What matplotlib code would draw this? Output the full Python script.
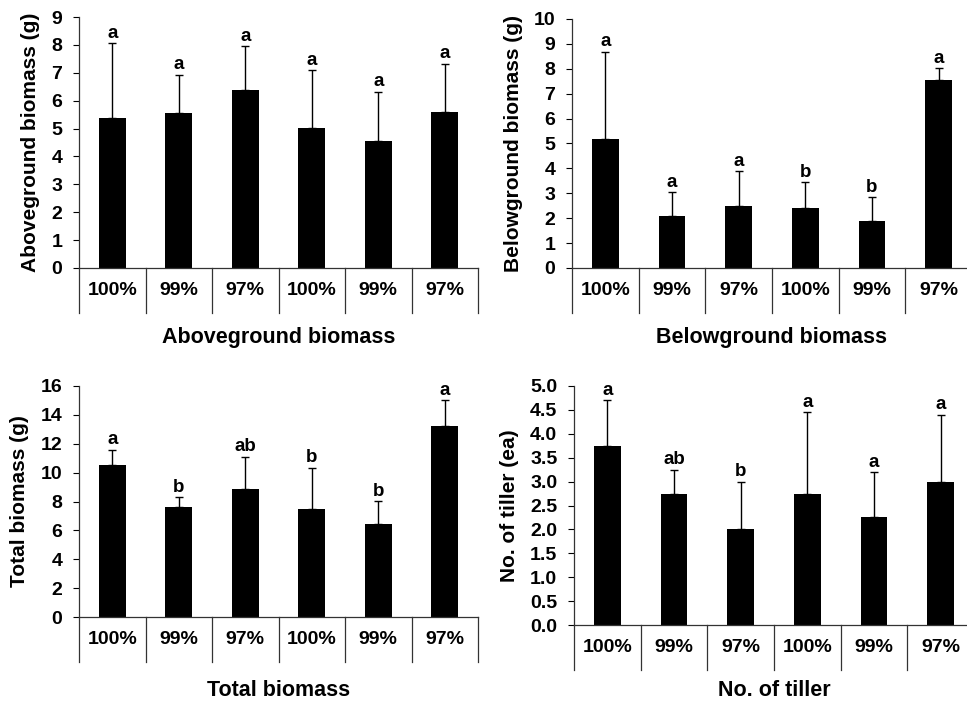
import numpy as np
import matplotlib
matplotlib.use("Agg")
import matplotlib.pyplot as plt
from matplotlib.transforms import blended_transform_factory

plt.rcParams["font.family"] = ["Liberation Sans", "DejaVu Sans"]
plt.rcParams["font.weight"] = "bold"

CATS = ["100%", "99%", "97%", "100%", "99%", "97%"]

above_mean = [5.37, 5.55, 6.38, 5.02, 4.57, 5.60]
above_sd = [2.70, 1.38, 1.57, 2.08, 1.75, 1.73]
above_let = ["a", "a", "a", "a", "a", "a"]

below_mean = [5.17, 2.08, 2.47, 2.42, 1.87, 7.57]
below_sd = [3.51, 0.97, 1.41, 1.03, 0.98, 0.45]
below_let = ["a", "a", "a", "b", "b", "a"]

total_mean = [10.55, 7.65, 8.85, 7.45, 6.45, 13.20]
total_sd = [1.05, 0.63, 2.25, 2.88, 1.58, 1.80]
total_let = ["a", "b", "ab", "b", "b", "a"]

tiller_mean = [3.75, 2.75, 2.00, 2.75, 2.25, 3.00]
tiller_sd = [0.95, 0.50, 1.00, 1.70, 0.95, 1.40]
tiller_let = ["a", "ab", "b", "a", "a", "a"]

PANELS = [
    # (rect px, mean, sd, letters, ylabel, xlabel, yticks, fmt, xlabel y px below axis)
    ([79, 17, 399, 251], above_mean, above_sd, above_let,
     "Aboveground biomass (g)", "Aboveground biomass", np.arange(0, 10, 1), "%d", 70),
    ([572, 19, 400, 249], below_mean, below_sd, below_let,
     "Belowground biomass (g)", "Belowground biomass", np.arange(0, 11, 1), "%d", 70),
    ([79, 386, 399, 231], total_mean, total_sd, total_let,
     "Total biomass (g)", "Total biomass", np.arange(0, 17, 2), "%d", 73),
    ([574, 386, 400, 239], tiller_mean, tiller_sd, tiller_let,
     "No. of tiller (ea)", "No. of tiller", np.arange(0, 5.01, 0.5), "%.1f", 66),
]

W, H = 967, 704
fig = plt.figure(figsize=(W / 100, H / 100), dpi=100)

for rect, mean, sd, lets, ylab, xlab, yt, fmt, xly in PANELS:
    x0, y0, w, h = rect
    ax = fig.add_axes([x0 / W, 1 - (y0 + h) / H, w / W, h / H])
    x = np.arange(len(CATS))
    ax.bar(x, mean, width=0.4, color="black", zorder=2)
    ax.errorbar(x, mean, yerr=[np.zeros(len(sd)), sd], fmt="none",
                ecolor="black", elinewidth=1.0, capsize=3, capthick=1.0, zorder=3)
    for xi, m, s, l in zip(x, mean, sd, lets):
        ax.annotate(l, (xi, m + s), xytext=(0, 1), textcoords="offset points",
                    ha="center", va="bottom", fontsize=13.5, fontweight="bold")
    ax.set_xlim(-0.5, 5.5)
    ax.set_ylim(yt[0], yt[-1])
    ax.set_yticks(yt)
    ax.set_yticklabels([fmt % v for v in yt], fontsize=14, fontweight="bold")
    ax.tick_params(axis="y", direction="out", length=4, width=0.8, pad=8)
    ax.set_xticks([])
    for s in ("top", "right"):
        ax.spines[s].set_visible(False)
    for s in ("left", "bottom"):
        ax.spines[s].set_linewidth(0.9)
        ax.spines[s].set_color("#333333")
    ax.set_ylabel(ylab, fontsize=15, fontweight="bold", labelpad=8)

    # table-like category row below the axis
    depth = 45 / h
    tr = blended_transform_factory(ax.transData, ax.transAxes)
    for b in np.arange(-0.5, 6.0, 1.0):
        ax.plot([b, b], [0, -depth], transform=tr, color="#333333",
                lw=0.9, clip_on=False)
    for xi, c in zip(x, CATS):
        ax.text(xi, -depth / 2, c, transform=tr, ha="center", va="center",
                fontsize=14, fontweight="bold")
    ax.text(2.5, -(xly / h), xlab, transform=tr, ha="center", va="center",
            fontsize=15.5, fontweight="bold")

fig.savefig("out.png", dpi=100)
